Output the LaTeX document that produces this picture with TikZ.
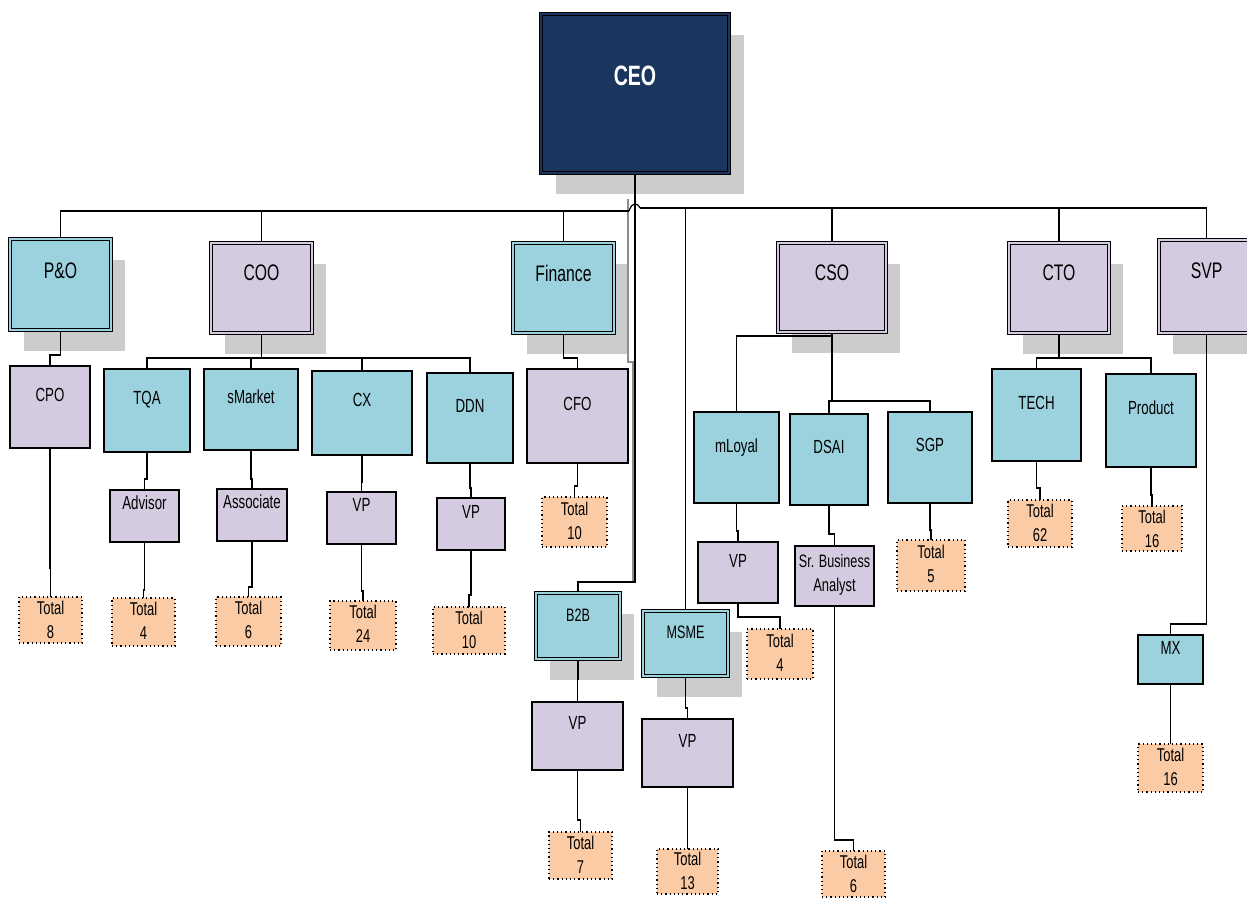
\documentclass[tikz,border=0pt]{standalone}
\usepackage{fontspec}
\setmainfont[FakeStretch=0.7]{Liberation Sans}
\usetikzlibrary{calc}
\definecolor{teal1}{HTML}{9BD2DE}
\definecolor{lav}{HTML}{D4CBE0}
\definecolor{peach}{HTML}{FACBA5}
\definecolor{navy}{HTML}{1B365E}
\definecolor{shade}{HTML}{CCCCCC}
\pgfdeclarelayer{bg}
\pgfdeclarelayer{lines}
\pgfsetlayers{bg,lines,main}
\newcommand\fsz[1]{\fontsize{#1}{#1}\selectfont}
\tikzset{
 base/.style={rectangle, inner sep=0pt, outer sep=0pt},
 dblT/.style={base, fill=teal1, draw=black, line width=1.1pt, double=teal1, double distance=2pt},
 dblL/.style={base, fill=lav, draw=black, line width=1.1pt, double=lav, double distance=2pt},
 dblN/.style={base, fill=navy, draw=black, line width=1.1pt, double=navy, double distance=2pt},
 sgT/.style={base, fill=teal1, draw=black, line width=1.3pt},
 sgL/.style={base, fill=lav, draw=black, line width=1.3pt},
 tot/.style={base, fill=peach, draw=black, line width=1.2pt, dash pattern=on 1.2pt off 3pt},
 big/.style={inner sep=0pt, font=\fsz{22.5}, text height=16pt, text depth=0pt},
 mid/.style={inner sep=0pt, font=\fsz{18}, text height=13pt, text depth=0pt},
 sml/.style={inner sep=0pt, font=\fsz{19}, text height=13.6pt, text depth=0pt},
 two/.style={inner sep=0pt, font=\fontsize{18.5}{24}\selectfont, align=center},
 ceot/.style={inner sep=0pt, font=\fsz{28}\bfseries, text=white, text height=20pt, text depth=0pt},
 conn/.style={draw=black, line width=1.2pt},
 gconn/.style={draw=black!45, line width=1.2pt},
 shd/.style={fill=shade},
}
% name, box style, x1, y1, x2, y2, text style, text offset, text
\newcommand\bx[9]{%
 \node[#2, anchor=north west, minimum width={#5-#3}, minimum height={#6-#4}] (#1) at (#3,#4) {};
 \node[#7] (#1-t) at ($(#1.north)+(0,#8)$) {#9};}
\newcommand\shadowof[2]{\fill[shd] ($(#1.north west)+(#2,21)$) rectangle ($(#1.south east)+(#2,21)$);}
\newcommand\conn[3]{\draw[conn] (#1.south) -- ++(0,#3) -| (#2.north);}
\begin{document}
\begin{tikzpicture}[x=1pt,y=-1pt]
\begin{pgfonlayer}{bg}
\fill[white] (0,0) rectangle (1247,898);
\end{pgfonlayer}
\useasboundingbox (0,0) rectangle (1247,898);
% level 1
\bx{ceo}{dblN}{541}{14}{729}{173}{ceot}{61}{CEO}
\bx{pno}{dblT}{10}{239}{111}{330}{big}{31}{P\&O}
\bx{coo}{dblL}{211}{243}{312}{333}{big}{29}{COO}
\bx{fin}{dblT}{513}{243}{614}{333}{big}{30}{Finance}
\bx{cso}{dblL}{778}{243}{886}{332}{big}{29}{CSO}
\bx{cto}{dblL}{1009}{243}{1109}{333}{big}{29}{CTO}
\bx{svp}{dblL}{1159}{240}{1254}{333}{big}{30}{SVP}
\bx{b2b}{dblT}{536}{593}{620}{659}{mid}{22}{B2B}
\bx{msme}{dblT}{643}{611}{728}{676}{mid}{21}{MSME}
% level 2
\bx{cpo}{sgL}{10}{366}{90}{448}{sml}{29}{CPO}
\bx{tqa}{sgT}{104}{369}{190}{452}{sml}{29}{TQA}
\bx{smk}{sgT}{204}{369}{298}{450}{sml}{28}{sMarket}
\bx{cx}{sgT}{312}{371}{412}{455}{sml}{29}{CX}
\bx{ddn}{sgT}{427}{373}{513}{463}{sml}{33}{DDN}
\bx{cfo}{sgL}{527}{369}{628}{463}{sml}{35}{CFO}
\bx{adv}{sgL}{110}{490}{179}{542}{sml}{13}{Advisor}
\bx{asc}{sgL}{217}{489}{287}{541}{sml}{13}{Associate}
\bx{vpcx}{sgL}{327}{492}{396}{544}{sml}{13}{VP}
\bx{vpddn}{sgL}{437}{498}{505}{550}{sml}{14}{VP}
\bx{vpb2b}{sgL}{532}{702}{623}{770}{sml}{21}{VP}
\bx{vpmsme}{sgL}{642}{719}{733}{787}{sml}{22}{VP}
\bx{mly}{sgT}{694}{412}{779}{503}{sml}{34}{mLoyal}
\bx{dsai}{sgT}{790}{414}{868}{505}{sml}{33}{DSAI}
\bx{sgp}{sgT}{888}{412}{972}{503}{sml}{33}{SGP}
\bx{vpmly}{sgL}{698}{542}{778}{603}{sml}{19}{VP}
\bx{sba}{sgL}{795}{546}{874}{606}{two}{29}{\fontsize{18}{24}\selectfont Sr. Business\\Analyst}
\bx{tech}{sgT}{992}{369}{1081}{461}{sml}{34}{TECH}
\bx{prod}{sgT}{1106}{374}{1196}{467}{sml}{34}{Product}
\bx{mx}{sgT}{1138}{635}{1203}{684}{sml}{13}{MX}
% totals
\bx{t8}{tot}{19}{597}{82}{643}{two}{23}{Total\\8}
\bx{t4a}{tot}{112}{598}{175}{646}{two}{23}{Total\\4}
\bx{t6a}{tot}{216}{597}{281}{646}{two}{23}{Total\\6}
\bx{t24}{tot}{330}{601}{396}{650}{two}{23}{Total\\24}
\bx{t10a}{tot}{433}{607}{505}{654}{two}{23}{Total\\10}
\bx{t10b}{tot}{542}{497}{607}{547}{two}{24}{Total\\10}
\bx{t7}{tot}{549}{832}{612}{879}{two}{23}{Total\\7}
\bx{t13}{tot}{657}{849}{718}{894}{two}{22}{Total\\13}
\bx{t4b}{tot}{747}{629}{813}{679}{two}{24}{Total\\4}
\bx{t6b}{tot}{822}{851}{885}{897}{two}{23}{Total\\6}
\bx{t5}{tot}{897}{540}{965}{591}{two}{24}{Total\\5}
\bx{t62}{tot}{1008}{500}{1072}{547}{two}{23}{Total\\62}
\bx{t16a}{tot}{1122}{506}{1182}{551}{two}{23}{Total\\16}
\bx{t16b}{tot}{1138}{744}{1203}{792}{two}{23}{Total\\16}
% shadows
\begin{pgfonlayer}{bg}
\shadowof{ceo}{15}
\foreach \n in {pno,coo,fin,cso,cto,svp,b2b,msme} {\shadowof{\n}{14}}
\end{pgfonlayer}
% connectors
\begin{pgfonlayer}{lines}
\coordinate (hopL) at (629,211);
\coordinate (hopR) at (640,208);
\coordinate (g0) at (628,199);
\coordinate (g1) at (628,362);
\coordinate (g2) at (633,362);
\coordinate (g3) at (633,582);
\draw[gconn] (g0) -- (g1) -- (g2) -- (g3);
\draw[conn] (ceo.south) -- ++(0,409) -| (b2b.north);
\draw[conn] (hopL) -| (pno.north);
\draw[conn] (hopL) -| (coo.north);
\draw[conn] (hopL) -| (fin.north);
\draw[conn] (hopL) .. controls (632,202) and (637,202) .. (hopR);
\draw[conn] (hopR) -| (msme.north);
\draw[conn] (hopR) -| (cso.north);
\draw[conn] (hopR) -| (cto.north);
\draw[conn] (hopR) -| (svp.north);
\conn{pno}{cpo}{25}
\conn{cpo}{t8}{120}
\foreach \c in {tqa,smk,cx,ddn} {\conn{coo}{\c}{25}}
\conn{tqa}{adv}{27}
\conn{adv}{t4a}{48}
\conn{smk}{asc}{29}
\conn{asc}{t6a}{46}
\conn{cx}{vpcx}{27}
\conn{vpcx}{t24}{47}
\conn{ddn}{vpddn}{25}
\conn{vpddn}{t10a}{45}
\conn{fin}{cfo}{25}
\conn{cfo}{t10b}{23}
\conn{b2b}{vpb2b}{20}
\conn{vpb2b}{t7}{50}
\conn{msme}{vpmsme}{32}
\conn{vpmsme}{t13}{40}
\conn{cso}{mly}{4}
\conn{cso}{dsai}{69}
\conn{cso}{sgp}{69}
\conn{mly}{vpmly}{28}
\conn{vpmly}{t4b}{14}
\conn{dsai}{sba}{29}
\conn{sba}{t6b}{234}
\conn{sgp}{t5}{27}
\conn{cto}{tech}{25}
\conn{cto}{prod}{25}
\conn{tech}{t62}{27}
\conn{prod}{t16a}{28}
\conn{svp}{mx}{291}
\conn{mx}{t16b}{30}
\end{pgfonlayer}
\end{tikzpicture}
\end{document}
